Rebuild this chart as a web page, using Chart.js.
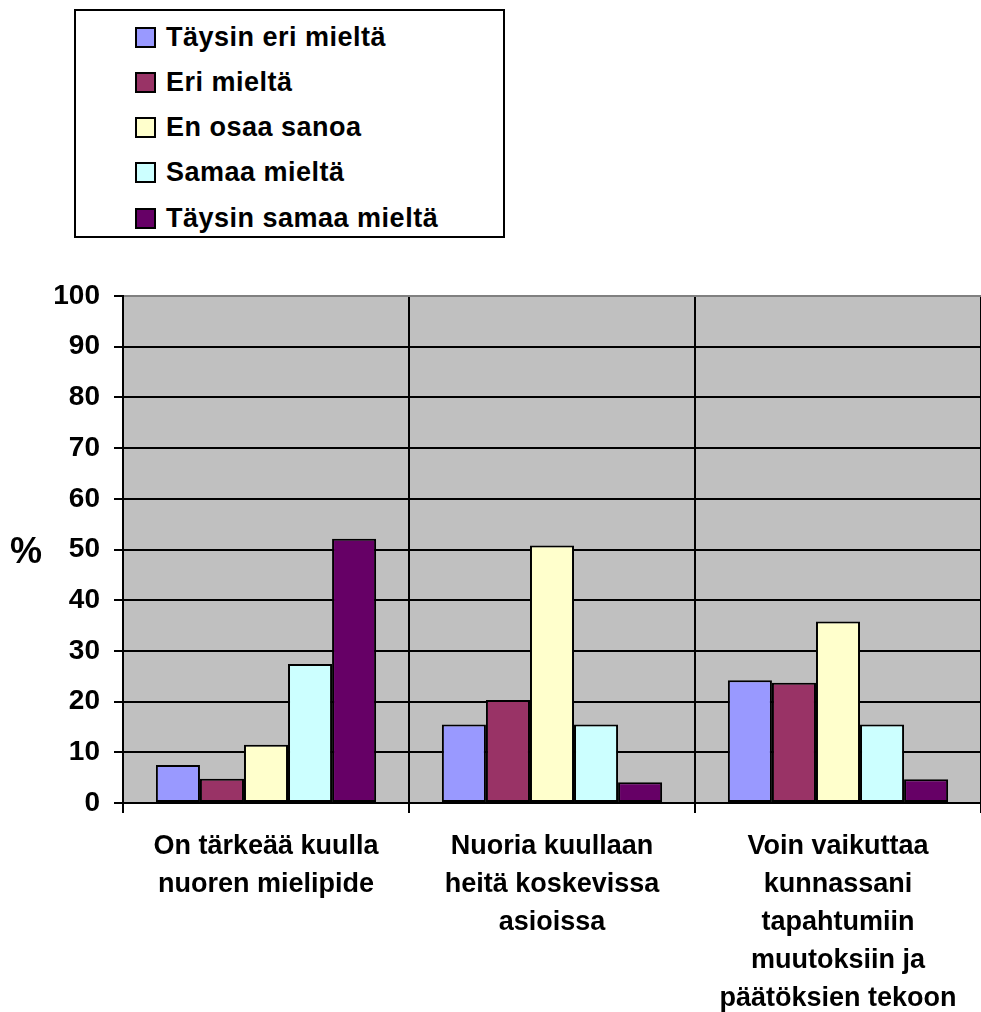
<!DOCTYPE html>
<html>
<head>
<meta charset="utf-8">
<script src="https://cdn.jsdelivr.net/npm/chart.js@4.4.1/dist/chart.umd.min.js"></script>
<style>
  html, body { margin: 0; padding: 0; background: #fff; }
  body { width: 981px; height: 1012px; position: relative; overflow: hidden;
         font-family: "Liberation Sans", Arial, sans-serif; font-weight: bold; }
  #wrap { position: absolute; left: 0; top: 0; width: 981px; height: 1012px; }
  #legend { position: absolute; left: 74px; top: 9px; width: 427px; height: 225px;
            border: 2px solid #000; background: #fff; }
  .item { position: absolute; left: 59px; height: 30px; display: flex; align-items: center;
          font-size: 27px; letter-spacing: 0.5px; color: #000; white-space: nowrap; }
  .sw { width: 17px; height: 17px; border: 2px solid #000; margin-right: 10px; }
  #ytitle { position: absolute; left: 10px; top: 530px; font-size: 36px; color: #000; }
</style>
</head>
<body>
<div id="wrap"><canvas id="chart" width="981" height="1012"></canvas></div>
<div id="legend"></div>
<div id="ytitle">%</div>
<script>
const categories = [
    ['On tärkeää kuulla', 'nuoren mielipide'],
    ['Nuoria kuullaan', 'heitä koskevissa', 'asioissa'],
    ['Voin vaikuttaa', 'kunnassani', 'tapahtumiin', 'muutoksiin ja', 'päätöksien tekoon']
];
const seriesNames  = ['Täysin eri mieltä', 'Eri mieltä', 'En osaa sanoa', 'Samaa mieltä', 'Täysin samaa mieltä'];
const seriesColors = ['#9999FF', '#993366', '#FFFFCC', '#CCFFFF', '#660066'];

const taysinEri   = [7.5, 15.5, 24.2];
const eri         = [4.8, 20.3, 23.7];
const enOsaa      = [11.5, 50.8, 35.8];
const samaa       = [27.4, 15.5, 15.5];
const taysinSamaa = [52.1, 4.1, 4.7];
const seriesValues = [taysinEri, eri, enOsaa, samaa, taysinSamaa];

const FONT = '"Liberation Sans", Arial, sans-serif';

const plotBg = {
    id: 'plotBg',
    beforeDraw(chart) {
        const { ctx, chartArea: a } = chart;
        ctx.save();
        ctx.fillStyle = '#C0C0C0';
        ctx.fillRect(a.left, a.top, a.right - a.left, a.bottom - a.top);
        ctx.restore();
    }
};

const chart = new Chart(document.getElementById('chart'), {
    type: 'bar',
    data: {
        labels: categories,
        datasets: seriesNames.map((name, i) => ({
            label: name,
            data: seriesValues[i],
            backgroundColor: seriesColors[i],
            borderColor: '#000',
            borderWidth: 2,
            borderSkipped: false,
            categoryPercentage: 0.77,
            barPercentage: 1.0
        }))
    },
    options: {
        responsive: false,
        animation: false,
        layout: { padding: { top: 296, right: 0, bottom: 0, left: 0 } },
        plugins: { legend: { display: false }, tooltip: { enabled: false } },
        scales: {
            x: {
                afterFit: s => { s.height = 209; },
                grid: { color: '#000', lineWidth: 2, tickLength: 10, offset: true },
                border: { color: '#000', width: 2 },
                ticks: {
                    color: '#000', maxRotation: 0, autoSkip: false, padding: 15,
                    font: { family: FONT, size: 27, weight: 'bold', lineHeight: 1.4 }
                }
            },
            y: {
                min: 0, max: 100,
                afterFit: s => { s.width = 123; },
                grid: {
                    color: c => (c.tick && c.tick.value === 100) ? '#808080' : '#000',
                    tickColor: '#000', lineWidth: 2, tickLength: 9
                },
                border: { color: '#000', width: 2 },
                ticks: {
                    stepSize: 10, color: '#000', padding: 14,
                    font: { family: FONT, size: 28, weight: 'bold' }
                }
            }
        }
    },
    plugins: [plotBg]
});

// legend box
const legend = document.getElementById('legend');
seriesNames.forEach((name, i) => {
    const row = document.createElement('div');
    row.className = 'item';
    row.style.top = (11 + i * 45.3) + 'px';
    row.innerHTML = '<span class="sw" style="background:' + seriesColors[i] + '"></span>' + name;
    legend.appendChild(row);
});
</script>
</body>
</html>
